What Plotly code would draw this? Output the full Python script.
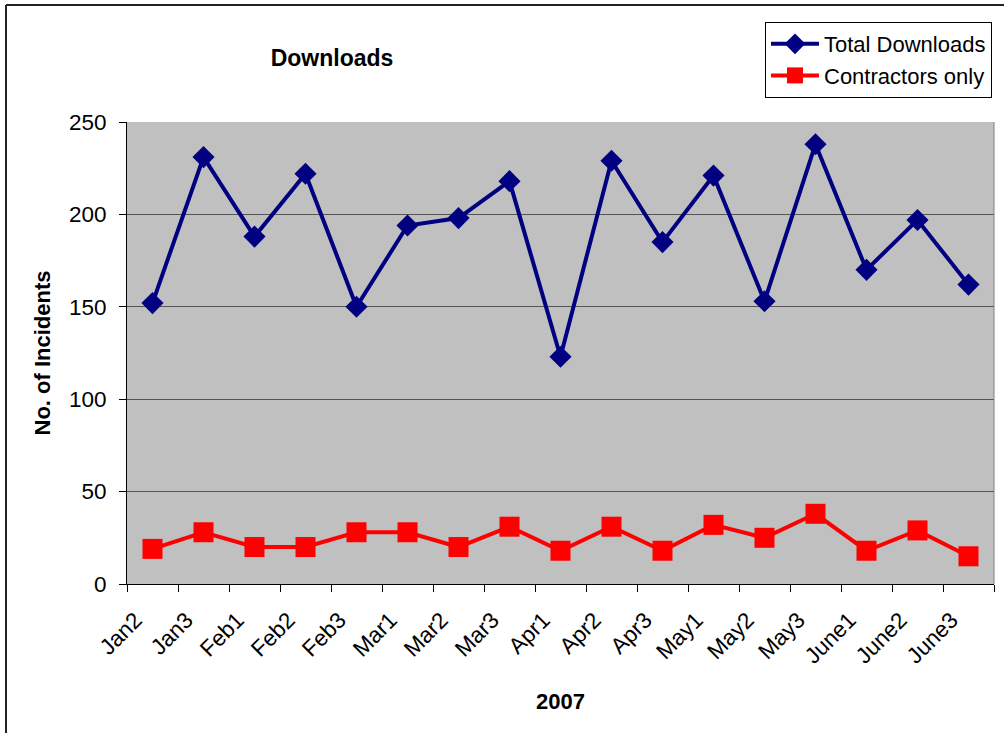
import plotly.graph_objects as go

categories = ["Jan2", "Jan3", "Feb1", "Feb2", "Feb3", "Mar1", "Mar2", "Mar3", "Apr1",
              "Apr2", "Apr3", "May1", "May2", "May3", "June1", "June2", "June3"]
total_downloads = [152, 231, 188, 222, 150, 194, 198, 218, 123, 229, 185, 221, 153, 238, 170, 197, 162]
contractors_only = [19, 28, 20, 20, 28, 28, 20, 31, 18, 31, 18, 32, 25, 38, 18, 29, 15]
y_ticks = [0, 50, 100, 150, 200, 250]

W, H = 1008, 733
L, R, T, B = 127, 14, 122, 149
pw, ph = W - L - R, H - T - B

def px_x(px):
    return (px - L) / pw

def px_y(py):
    return (H - B - py) / ph

FONT = "Arial, Liberation Sans, sans-serif"

fig = go.Figure()
fig.add_trace(go.Scatter(
    x=categories, y=total_downloads, name="Total Downloads", mode="lines+markers",
    line=dict(color="#000080", width=4),
    marker=dict(symbol="diamond", size=17, color="#000080"),
    legendgroup="a"))
fig.add_trace(go.Scatter(
    x=categories, y=contractors_only, name="Contractors only", mode="lines+markers",
    line=dict(color="#FF0000", width=4),
    marker=dict(symbol="square", size=20, color="#FF0000"),
    legendgroup="b"))

fig.update_layout(
    width=W, height=H,
    margin=dict(l=L, r=R, t=T, b=B),
    paper_bgcolor="white", plot_bgcolor="#C0C0C0",
    font=dict(family=FONT, size=22, color="black"),
    title=dict(text="<b>Downloads</b>", font=dict(size=23, family=FONT, color="black"),
               xref="paper", x=px_x(332), xanchor="center",
               yref="container", y=1 - 58 / H, yanchor="middle"),
    showlegend=True,
    legend=dict(x=px_x(992), xanchor="right", y=px_y(22), yanchor="top",
                bgcolor="white", bordercolor="black", borderwidth=1,
                font=dict(size=22, family=FONT), itemwidth=48,
                traceorder="grouped", tracegroupgap=0),
    xaxis=dict(type="category", range=[-0.5, len(categories) - 0.5],
               tickson="boundaries", ticks="outside", ticklen=7,
               tickcolor="black", tickwidth=1, showline=True, linecolor="black", linewidth=1,
               tickangle=-45, showgrid=False, ticklabelstandoff=13, ticklabelshift=-17,
               tickfont=dict(size=22.5, family=FONT),
               title=dict(text="<b>2007</b>", font=dict(size=22, family=FONT), standoff=26)),
    yaxis=dict(range=[0, 250], tickvals=y_ticks, ticks="outside", ticklen=7,
               tickcolor="black", tickwidth=1, showline=True, linecolor="black", linewidth=1,
               showgrid=True, gridcolor="#555555", gridwidth=1, zeroline=False,
               ticklabelstandoff=8, tickfont=dict(size=22.5, family=FONT),
               title=dict(text="<b>No. of Incidents</b>", font=dict(size=22, family=FONT), standoff=12)),
    shapes=[
        dict(type="line", xref="paper", yref="paper", x0=1, x1=1, y0=0, y1=1,
             line=dict(color="#808080", width=1)),
        dict(type="line", xref="paper", yref="paper", x0=px_x(6), x1=px_x(6),
             y0=px_y(5), y1=px_y(733), line=dict(color="#222222", width=2)),
        dict(type="line", xref="paper", yref="paper", x0=px_x(6), x1=px_x(1004),
             y0=px_y(5), y1=px_y(5), line=dict(color="#222222", width=2)),
    ],
)

fig.write_html("out.html")
